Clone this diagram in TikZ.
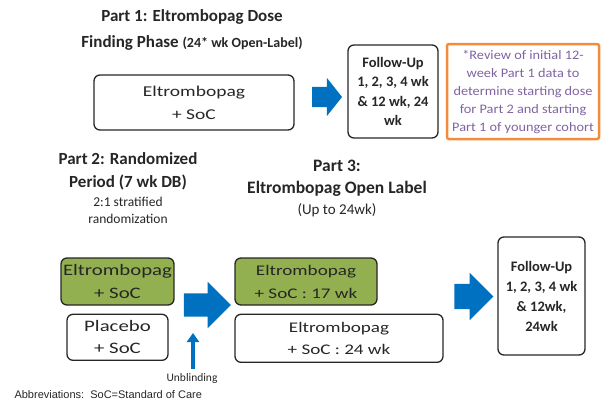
\documentclass[tikz,border=0pt]{standalone}
\usepackage{fontspec}
\setmainfont{Carlito}
\newfontfamily\boxfont[FakeStretch=1.3]{Carlito}
\newfontfamily\notefont[FakeStretch=1.1]{Carlito}
\newfontfamily\abbrfont{Liberation Sans}
\usetikzlibrary{positioning,shapes.arrows,arrows.meta}

\definecolor{arrowblue}{RGB}{0,112,192}
\definecolor{drugGreen}{RGB}{146,176,80}
\definecolor{notePurple}{RGB}{128,100,162}
\definecolor{noteOrange}{RGB}{242,140,60}

\begin{document}
\begin{tikzpicture}[x=1pt,y=-1pt,node distance=8pt,text=black!85,
  box/.style={draw=black!85,line width=1.3pt,rounded corners=6pt,align=center,inner sep=2pt,
    font=\boxfont\fontsize{15}{22}\selectfont},
  drug/.style={box,fill=drugGreen},
  fu/.style={box,font=\bfseries\fontsize{14.5}{19.5}\selectfont},
  title/.style={align=center,font=\bfseries\fontsize{17}{23}\selectfont},
  subtitle/.style={align=center,font=\fontsize{13.5}{17}\selectfont},
  blockarrow/.style={single arrow,fill=arrowblue,inner xsep=0pt,shape border uses incircle=false}]
 \useasboundingbox (0,0) rectangle (602,408);
 % part 1
 \node[title,font=\bfseries\fontsize{17}{26}\selectfont] (t1) at (192,30)
   {Part 1: Eltrombopag Dose\\Finding Phase {\fontsize{14}{26}\selectfont(24* wk Open-Label)}};
 \node[box,minimum width=200pt,minimum height=55pt,font=\boxfont\fontsize{15}{23}\selectfont] (p1drug) at (194,102.5)
   {Eltrombopag\\+ SoC};
 \node[blockarrow,minimum height=30pt,inner ysep=10pt,single arrow head extend=9pt,
   single arrow tip angle=103] (a1) at (323,97) {};
 \node[fu,minimum width=90pt,minimum height=93pt] (fu1) at (393,91.5)
   {Follow-Up\\1, 2, 3, 4 wk\\\& 12 wk, 24\\wk};
 \node[draw=noteOrange,line width=2.5pt,rounded corners=2pt,minimum width=152pt,minimum height=95pt,
   align=center,text=notePurple,font=\notefont\fontsize{13}{18}\selectfont] (note) at (523,91.5)
   {*Review of initial 12-\\week Part 1 data to\\determine starting dose\\for Part 2 and starting\\Part 1 of younger cohort};
 % part 2
 \node[title] (t2) at (128,171.5) {Part 2: Randomized\\Period (7 wk DB)};
 \node[subtitle,below=0pt of t2] (t2note) {2:1 stratified\\randomization};
 \node[drug,minimum width=101pt,minimum height=47pt,font=\boxfont\fontsize{16}{23}\selectfont] (p2drug) at (117.5,281.5)
   {Eltrombopag\\+ SoC};
 \node[box,minimum width=101pt,minimum height=46pt,below=8pt of p2drug,font=\boxfont\fontsize{16}{22}\selectfont] (p2plac)
   {Placebo\\+ SoC};
 \node[blockarrow,minimum height=47pt,inner ysep=11.5pt,single arrow head extend=11.5pt,
   single arrow tip angle=90] (a2) at (201.5,305) {};
 \node[font=\fontsize{11.5}{13}\selectfont] (unbl) at (192,378) {Unblinding};
 \coordinate (ub) at (193,333);
 \draw[arrowblue,line width=4.5pt,-{Triangle[length=9pt,width=12pt]}] (unbl.north -| ub) -- (ub);
 % part 3
 \node[title,font=\bfseries\fontsize{17.5}{22}\selectfont] (t3) at (337,178) {Part 3:\\Eltrombopag Open Label};
 \node[subtitle,font=\fontsize{15}{17}\selectfont,below=0pt of t3] (t3note) {(Up to 24wk)};
 \node[drug,minimum width=142pt,minimum height=47pt,font=\boxfont\fontsize{14.7}{23}\selectfont] (p3drug) at (306,281.5)
   {Eltrombopag\\+ SoC : 17 wk};
 \node[box,minimum width=208pt,minimum height=48pt,below=8pt of p3drug.south west,anchor=north west,
   font=\boxfont\fontsize{14.7}{22}\selectfont] (p3soc)
   {Eltrombopag\\+ SoC : 24 wk};
 \node[blockarrow,minimum height=39pt,inner ysep=12.5pt,single arrow head extend=11pt,
   single arrow tip angle=90] (a3) at (467.5,296.5) {};
 \node[fu,minimum width=87pt,minimum height=118pt,font=\bfseries\fontsize{14.5}{20}\selectfont] (fu2) at (541.5,296)
   {Follow-Up\\1, 2, 3, 4 wk\\\& 12wk,\\24wk};
 \node[anchor=west,font=\abbrfont\fontsize{11}{12}\selectfont] (abbr) at (11,395)
   {Abbreviations:\ \ SoC=Standard of Care};
\end{tikzpicture}
\end{document}
